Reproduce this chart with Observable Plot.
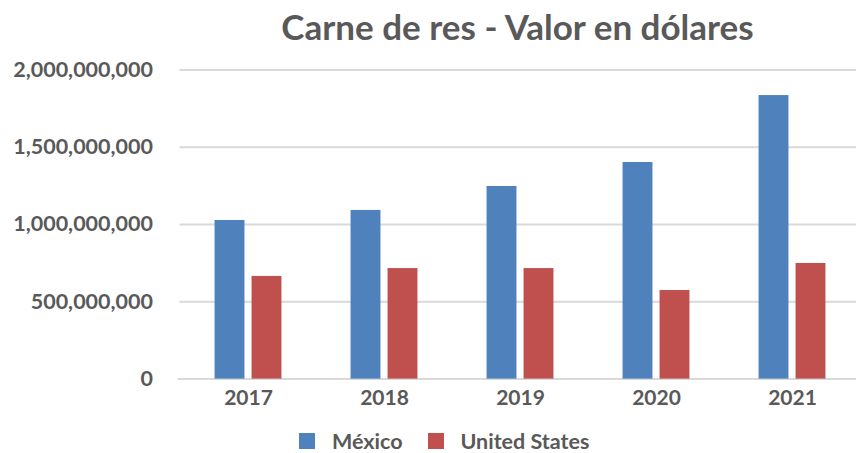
<!DOCTYPE html>
<html>
<head>
<meta charset="utf-8">
<script src="https://cdn.jsdelivr.net/npm/d3@7"></script>
<script src="https://cdn.jsdelivr.net/npm/@observablehq/plot@0.6"></script>
<style>
  html, body { margin: 0; padding: 0; background: #fff; }
  body { width: 856px; height: 453px; overflow: hidden; font-family: Lato, "Open Sans", sans-serif; color: #595959; position: relative; }
  #title { position: absolute; left: 179px; width: 677px; top: 0; height: 55px; text-align: center; font-weight: bold; font-size: 35px; line-height: 52px; color: #595959; white-space: nowrap; }
  #chart { position: absolute; left: 0; top: 55px; width: 860px; }
  #chart svg { max-width: none !important; }
  #legend { position: absolute; top: 428px; left: 299px; display: flex; align-items: center; font-weight: bold; font-size: 21.5px; color: #595959; }
  .sw { width: 16px; height: 16px; display: inline-block; }
  .lab { margin-left: 17px; margin-right: 25px; }
</style>
</head>
<body>
<div id="title">Carne de res - Valor en dólares</div>
<div id="chart"></div>
<div id="legend"></div>
<script>
const years = ["2017", "2018", "2019", "2020", "2021"];
const series = ["México", "United States"];
const mexico = [1026000000, 1091000000, 1246000000, 1401000000, 1834000000];
const unitedStates = [664000000, 715000000, 715000000, 573000000, 748000000];
const yTicks = [0, 500000000, 1000000000, 1500000000, 2000000000];
const colors = ["#4f81bd", "#c0504d"];

const data = [];
years.forEach((y, i) => {
  data.push({year: y, series: series[0], value: mexico[i]});
  data.push({year: y, series: series[1], value: unitedStates[i]});
});

const barW = 30, half = 18.5;
const step = (860 - 179.5) / years.length;
const inset = (step - barW) / 2;

const chart = Plot.plot({
  width: 860,
  height: 370,
  marginLeft: 179.5,
  marginRight: 0,
  marginTop: 14.4,
  marginBottom: 46.4,
  style: {fontFamily: "Lato, 'Open Sans', sans-serif", color: "#595959", background: "#fff", overflow: "visible", maxWidth: "none"},
  x: {domain: years, padding: 0, label: null},
  y: {domain: [0, 2000000000], label: null},
  color: {domain: series, range: colors},
  marks: [
    Plot.ruleY(yTicks, {stroke: "#d9d9d9", strokeWidth: 2}),
    Plot.ruleY([0], {stroke: "#d9d9d9", strokeWidth: 2, dx: -2}),
    Plot.barY(data.filter(d => d.series === series[0]), {x: "year", y: "value", fill: "series", dx: -half, insetLeft: inset, insetRight: inset}),
    Plot.barY(data.filter(d => d.series === series[1]), {x: "year", y: "value", fill: "series", dx: half, insetLeft: inset, insetRight: inset}),
    Plot.axisY({ticks: yTicks, tickFormat: d3.format(","), tickSize: 0, tickPadding: 27, fontSize: 21.5, fontWeight: "bold", fill: "#595959"}),
    Plot.axisX({tickSize: 0, tickPadding: 11, fontSize: 21, fontWeight: "bold", fill: "#595959"})
  ]
});
document.getElementById("chart").appendChild(chart);

const legend = document.getElementById("legend");
series.forEach((s, i) => {
  const sw = document.createElement("span");
  sw.className = "sw";
  sw.style.background = colors[i];
  const lab = document.createElement("span");
  lab.className = "lab";
  lab.textContent = s;
  legend.appendChild(sw);
  legend.appendChild(lab);
});
</script>
</body>
</html>
